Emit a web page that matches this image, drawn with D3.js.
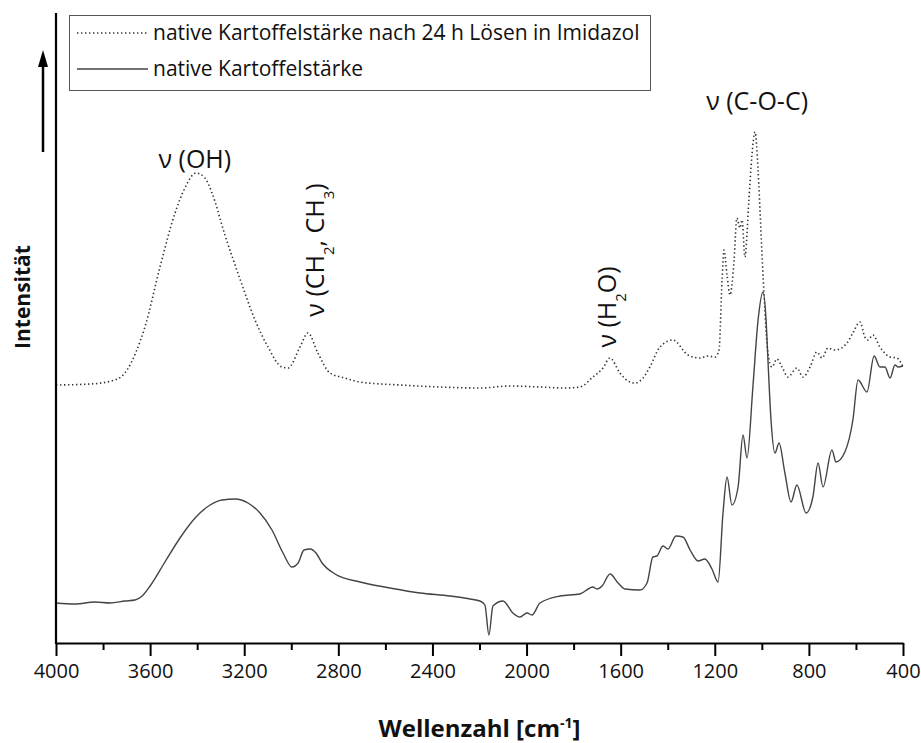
<!DOCTYPE html>
<html>
<head>
<meta charset="utf-8">
<script src="https://cdn.jsdelivr.net/npm/d3@7"></script>
<style>
  body { margin: 0; background: #fff; }
  svg text { font-family: "Open Sans", "DejaVu Sans", sans-serif; fill: #111; }
</style>
</head>
<body>
<div id="chart"></div>
<script>
// FTIR spectra: native potato starch vs. after 24 h dissolution in imidazole
// intensity is in arbitrary units (stacked, offset curves)

var seriesNames = ['native Kartoffelstärke nach 24 h Lösen in Imidazol', 'native Kartoffelstärke'];

// [wavenumber cm-1, intensity a.u.]
var imidazolSpectrum = [
    [4000, 258], [3855, 259], [3749, 263], [3698, 273], [3660, 291], [3622, 316],
    [3558, 376], [3494, 430], [3452, 455], [3405, 470], [3367, 465], [3337, 450],
    [3282, 408], [3218, 364], [3154, 323], [3099, 296], [3040, 276], [3014, 275],
    [2963, 296], [2929, 310], [2887, 290], [2836, 270], [2772, 265], [2708, 261],
    [2538, 258], [2368, 256], [2198, 255], [2070, 257], [1943, 256], [1837, 255],
    [1773, 256], [1718, 266], [1675, 275], [1646, 285], [1603, 270], [1569, 262],
    [1539, 260], [1505, 265], [1476, 276], [1433, 296], [1378, 303], [1314, 288],
    [1263, 285], [1229, 287], [1199, 286], [1182, 293], [1169, 363], [1161, 393],
    [1148, 368], [1135, 348], [1118, 383], [1106, 425], [1093, 415], [1084, 423],
    [1072, 386], [1055, 443], [1042, 488], [1029, 511], [1016, 473], [1004, 413],
    [991, 350], [974, 290], [957, 276], [936, 284], [914, 276], [889, 266],
    [851, 275], [825, 266], [795, 276], [766, 291], [744, 285], [719, 295],
    [689, 293], [638, 300], [613, 310], [583, 321], [562, 306], [549, 303],
    [528, 308], [498, 296], [455, 286], [426, 285], [400, 276]
];

var nativeSpectrum = [
    [4000, 40], [3919, 39], [3834, 41], [3770, 40], [3707, 42], [3664, 43],
    [3634, 47], [3600, 57], [3537, 81], [3473, 105], [3409, 125], [3345, 138],
    [3294, 143], [3239, 144], [3184, 140], [3133, 130], [3082, 113], [3035, 90],
    [2997, 76], [2971, 80], [2946, 93], [2920, 94], [2895, 90], [2869, 80],
    [2814, 69], [2708, 61], [2580, 55], [2453, 50], [2325, 47], [2240, 44],
    [2198, 42], [2177, 38], [2160, 8], [2143, 37], [2100, 42], [2058, 30],
    [2028, 26], [1998, 30], [1977, 28], [1943, 40], [1858, 47], [1773, 49],
    [1718, 56], [1701, 54], [1679, 57], [1645, 69], [1611, 60], [1582, 54],
    [1518, 53], [1488, 60], [1463, 86], [1446, 87], [1420, 97], [1399, 94],
    [1365, 107], [1335, 106], [1305, 93], [1271, 82], [1242, 84], [1212, 74],
    [1186, 61], [1165, 130], [1148, 166], [1127, 138], [1101, 156], [1080, 208],
    [1063, 185], [1038, 256], [1016, 323], [995, 351], [982, 323], [974, 283],
    [961, 223], [944, 190], [927, 200], [902, 170], [876, 141], [851, 158],
    [812, 130], [783, 146], [761, 180], [740, 156], [702, 193], [685, 181],
    [647, 191], [613, 223], [591, 263], [553, 251], [523, 287], [498, 276],
    [477, 276], [455, 265], [434, 278], [421, 276], [400, 277]
];

var majorTicks = [4000, 3600, 3200, 2800, 2400, 2000, 1600, 1200, 800, 400];
var minorTicks = [3800, 3400, 3000, 2600, 2200, 1800, 1400, 1000, 600];

var width = 921, height = 743;
var margin = { top: 13, right: 18, bottom: 100, left: 56 };

var svg = d3.select('#chart').append('svg')
    .attr('width', width)
    .attr('height', height);

var x = d3.scaleLinear()
    .domain([4000, 400])
    .range([margin.left, width - margin.right]);

var y = d3.scaleLinear()
    .domain([0, 630])
    .range([height - margin.bottom, margin.top]);

var line = d3.line()
    .x(function(d) { return x(d[0]); })
    .y(function(d) { return y(d[1]); })
    .curve(d3.curveMonotoneX);

// spectra
svg.append('path')
    .datum(imidazolSpectrum)
    .attr('fill', 'none')
    .attr('stroke', '#333')
    .attr('stroke-width', 1.6)
    .attr('stroke-dasharray', '1.4,2.6')
    .attr('d', line);

svg.append('path')
    .datum(nativeSpectrum)
    .attr('fill', 'none')
    .attr('stroke', '#444')
    .attr('stroke-width', 1.4)
    .attr('d', line);

// x axis, major + minor ticks
var xAxisG = svg.append('g')
    .attr('transform', 'translate(0,' + y(0) + ')')
    .call(d3.axisBottom(x).tickValues(majorTicks).tickFormat(d3.format('d'))
        .tickSize(13).tickSizeOuter(0).tickPadding(8));
xAxisG.selectAll('text').style('font-size', '20px').attr('fill', '#111');
xAxisG.select('.domain').attr('stroke', '#000').attr('stroke-width', 2.2);
xAxisG.selectAll('.tick line').attr('stroke', '#000').attr('stroke-width', 2);

svg.append('g')
    .attr('transform', 'translate(0,' + y(0) + ')')
    .call(d3.axisBottom(x).tickValues(minorTicks).tickSize(7).tickFormat(''))
    .call(function(g) {
        g.select('.domain').remove();
        g.selectAll('.tick line').attr('stroke', '#000').attr('stroke-width', 2);
    });

// y axis: bare line, no ticks
svg.append('line')
    .attr('x1', x(4000)).attr('x2', x(4000))
    .attr('y1', y(630)).attr('y2', y(0) + 1)
    .attr('stroke', '#000')
    .attr('stroke-width', 2.2);

// axis titles
svg.append('text')
    .attr('x', (margin.left + width - margin.right) / 2)
    .attr('y', 737)
    .attr('text-anchor', 'middle')
    .style('font-size', '24px')
    .style('font-weight', 'bold')
    .text('Wellenzahl [cm')
    .append('tspan')
    .attr('dy', -9)
    .style('font-size', '14px')
    .text('-1')
    .select(function() { return this.parentNode; })
    .append('tspan')
    .attr('dy', 9)
    .text(']');

svg.append('text')
    .attr('transform', 'translate(30,297) rotate(-90)')
    .attr('text-anchor', 'middle')
    .style('font-size', '21px')
    .style('font-weight', 'bold')
    .text('Intensität');

// intensity arrow
svg.append('line')
    .attr('x1', 43).attr('x2', 43)
    .attr('y1', 152).attr('y2', 62)
    .attr('stroke', '#000')
    .attr('stroke-width', 2.5);
svg.append('path')
    .attr('d', 'M43,50 L38,67 L48,67 Z')
    .attr('fill', '#000');

// band annotations
var annot = svg.append('g').style('font-size', '25px');

annot.append('text')
    .attr('x', x(3410)).attr('y', 168)
    .attr('text-anchor', 'middle')
    .text('ν (OH)');

annot.append('text')
    .attr('x', x(1020)).attr('y', 110)
    .attr('text-anchor', 'middle')
    .text('ν (C-O-C)');

function subText(g, parts, tx, ty) {
    var t = g.append('text')
        .attr('transform', 'translate(' + tx + ',' + ty + ') rotate(-90)')
        .attr('text-anchor', 'middle');
    parts.forEach(function(p) {
        var s = t.append('tspan').text(p[0]);
        if (p[1]) s.attr('baseline-shift', 'sub').style('font-size', '15px');
    });
}

subText(annot, [['ν (CH'], ['2', true], [', CH'], ['3', true], [')']], x(2895) + 8, 250);
subText(annot, [['ν (H'], ['2', true], ['O)']], x(1650) + 7, 307);

// legend
var legend = svg.append('g');
legend.append('rect')
    .attr('x', 69.5).attr('y', 15.5)
    .attr('width', 581).attr('height', 75)
    .attr('fill', '#fff')
    .attr('stroke', '#555')
    .attr('stroke-width', 1);

var legendRows = [
    { name: seriesNames[0], dash: '1.4,2.6', stroke: '#333', y: 33 },
    { name: seriesNames[1], dash: null, stroke: '#444', y: 69 }
];
legendRows.forEach(function(r) {
    legend.append('line')
        .attr('x1', 77).attr('x2', 148)
        .attr('y1', r.y).attr('y2', r.y)
        .attr('stroke', r.stroke)
        .attr('stroke-width', r.dash ? 1.6 : 1.4)
        .attr('stroke-dasharray', r.dash);
    legend.append('text')
        .attr('x', 153).attr('y', r.y + 7)
        .style('font-size', '21px')
        .text(r.name);
});
</script>
</body>
</html>
